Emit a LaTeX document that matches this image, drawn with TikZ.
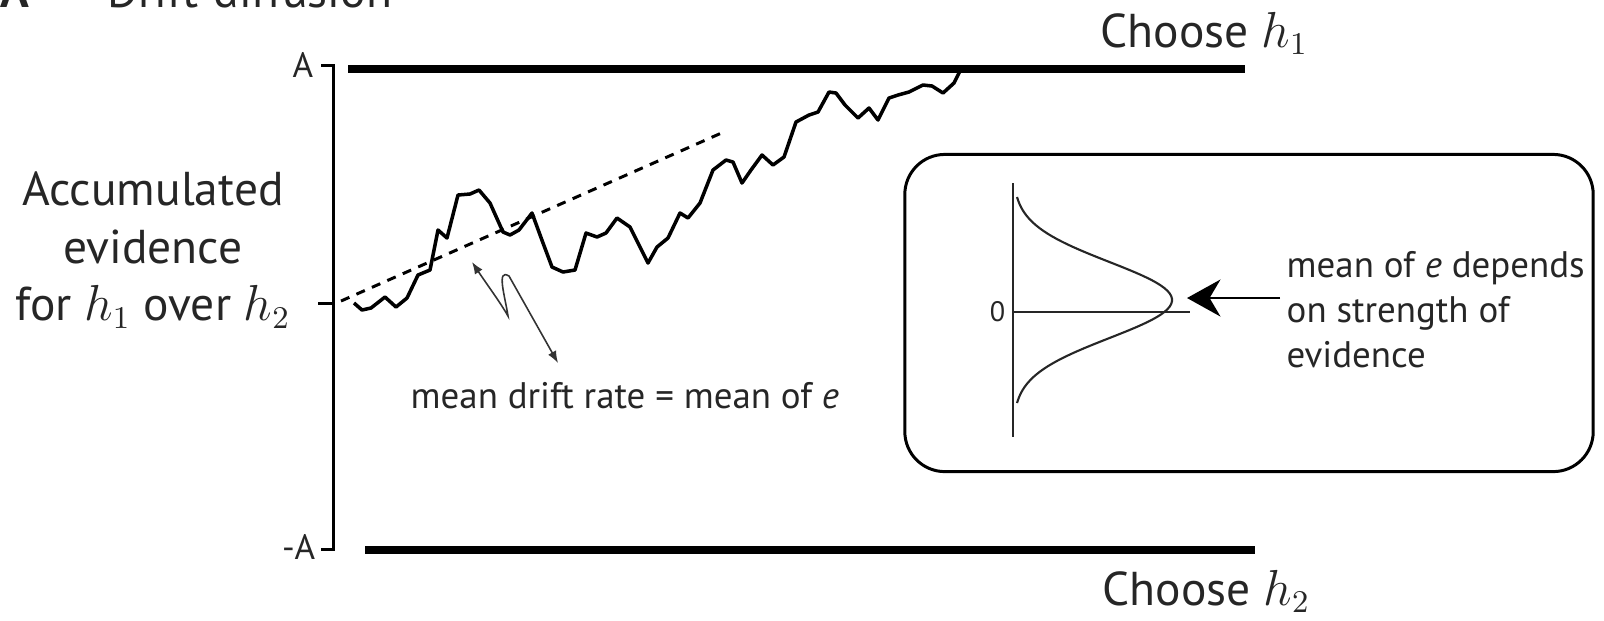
\documentclass[tikz,border=0pt]{standalone}
\usepackage{fontspec}
\setmainfont{PT Sans}
\usetikzlibrary{arrows.meta, positioning}

\begin{document}
\begin{tikzpicture}[
    x=0.01cm, y=-0.01cm,
    bound/.style={line width=2.3pt},
    axis/.style={line width=0.85pt},
    thinaxis/.style={line width=0.6pt, black!85},
    walk/.style={line width=1pt, line join=round},
    drift/.style={line width=0.85pt, dash pattern=on 2.6pt off 2.2pt},
    label/.style={font=\fontsize{13.5}{16.4}\selectfont, text=black!85, inner sep=0pt},
    note/.style={font=\fontsize{10.5}{12.7}\selectfont, text=black!85, inner sep=0pt, align=left},
    tick/.style={font=\fontsize{10}{12}\selectfont, text=black!85, inner sep=0pt},
    inset/.style={draw, line width=0.85pt, rounded corners=0.4cm,
                  minimum width=6.88cm, minimum height=3.17cm},
    squiggle/.style={line width=0.45pt, black!80,
                     {Latex[length=3.4pt,width=2.6pt]}-{Latex[length=3.4pt,width=2.6pt]}},
    bigarrow/.style={line width=0.8pt, -{Stealth[length=9.5pt,width=10.5pt]}}
]
\path[use as bounding box, clip] (0,0) rectangle (1604,620);

% panel title, cut at the top edge
\node[label, anchor=base west, font=\fontsize{13.5}{16}\selectfont\bfseries] (panel) at (0,7) {A};
\node[label, anchor=base west] (title) at (107,7) {Drift-diffusion};

% vertical axis with its three ticks
\coordinate (ytop) at (333,65);
\coordinate (ymid) at (333,303);
\coordinate (ybot) at (333,549);
\draw[axis] (321,65) -- (ytop) -- (ybot) -- (321,549);
\draw[axis] (318,303) -- (ymid);
\node[tick, anchor=east] (atop) at (314,65) {A};
\node[tick, anchor=east] (abot) at (316,547) {-A};

\node[label, align=center] (ylab) at (153,250) {Accumulated\\evidence\\for $h_1$ over $h_2$};

% decision bounds
\coordinate (up0) at (348,69);
\coordinate (up1) at (1245,69);
\coordinate (lo0) at (365,550);
\coordinate (lo1) at (1255,550);
\draw[bound] (up0) -- (up1);
\draw[bound] (lo0) -- (lo1);
\node[label, anchor=base west] (choose1) at (1100,47) {Choose $h_1$};
\node[label, anchor=base west] (choose2) at (1102,605) {Choose $h_2$};

% mean drift and one sample path
\coordinate (d0) at (341,301);
\coordinate (d1) at (726,131);
\draw[drift] (d0) -- (d1);
\draw[walk] (354,303) -- (362,310) -- (371,308) -- (385,297) -- (396,307) -- (407,298)
  -- (418,275) -- (430,270) -- (438,230) -- (447,238) -- (458,195) -- (470,194)
  -- (479,190) -- (490,203) -- (503,232) -- (510,235) -- (519,230) -- (532,213)
  -- (543,243) -- (552,267) -- (563,272) -- (575,270) -- (586,233) -- (597,237)
  -- (606,233) -- (617,218) -- (630,227) -- (648,263) -- (657,247) -- (668,238)
  -- (680,213) -- (688,218) -- (700,203) -- (713,170) -- (726,160) -- (733,162)
  -- (742,183) -- (751,170) -- (762,155) -- (773,165) -- (784,157) -- (796,122)
  -- (809,115) -- (818,112) -- (829,92) -- (836,93) -- (845,105) -- (858,118)
  -- (869,108) -- (878,120) -- (889,98) -- (898,95) -- (909,92) -- (923,85)
  -- (932,86) -- (943,93) -- (954,83) -- (961,69);

\coordinate (sq0) at (472,262);
\coordinate (sq1) at (558,363);
\draw[squiggle] (sq0) .. controls (488,286) and (500,302) .. (508,316)
  .. controls (505,296) and (496,268) .. (509,276) -- (sq1);
\node[note, anchor=base west] (driftlab) at (410,408) {mean drift rate = mean of \textit{e}};

% inset: distribution of e
\node[inset] (box) at (1249,313) {};
\coordinate (e0) at (1013,183);
\coordinate (e1) at (1013,437);
\coordinate (z0) at (1013,312);
\coordinate (z1) at (1190,312);
\draw[thinaxis] (e0) -- (e1);
\draw[thinaxis] (z0) -- (z1);
\node[tick, anchor=east, font=\fontsize{8}{10}\selectfont] (zero) at (1006,312) {0};
\draw[thinaxis] plot[domain=-103:103, samples=80] ({1013+159*exp(-(\x*\x)/2888)}, {300+\x});

\coordinate (tail) at (1280,298);
\coordinate (tip) at (1187,298);
\draw[bigarrow] (tail) -- (tip);
\node[note, anchor=north west] (meannote) at (1286,251) {mean of \textit{e} depends\\on strength of\\evidence};
\end{tikzpicture}
\end{document}
